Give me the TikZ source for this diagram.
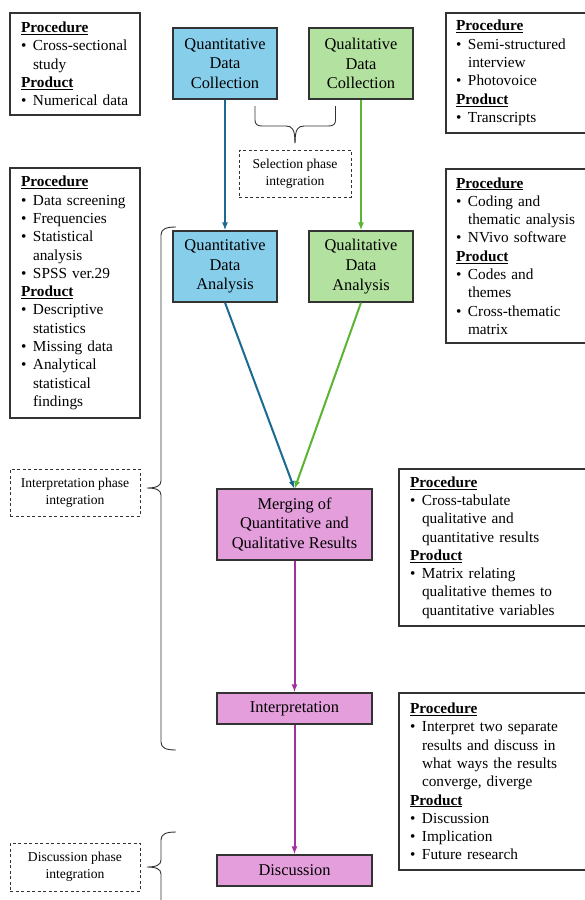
\documentclass[tikz,border=0pt]{standalone}
\usepackage{fontspec}
\setmainfont{Liberation Serif}
\usetikzlibrary{arrows.meta}
\definecolor{qblue}{HTML}{87CEEB}
\definecolor{qgreen}{HTML}{B3E1A0}
\definecolor{qpink}{HTML}{E49EDC}
\definecolor{abluec}{HTML}{1B6A8F}
\definecolor{agreenc}{HTML}{5BB533}
\definecolor{apurple}{HTML}{A3309E}
\definecolor{bordc}{HTML}{333333}
\newcommand\bl{\makebox[12pt][l]{\textbullet}}
\newcommand\ind{\hspace*{12pt}}
\newcommand\hd[1]{\underline{\textbf{#1}}}
\tikzset{
  mainbox/.style={draw=bordc, line width=1.2pt, align=center, inner sep=0pt,
    font=\fontsize{16.4}{19.7}\selectfont},
  sidebox/.style={draw=bordc, line width=1.2pt, align=left, inner ysep=0pt,
    font=\fontsize{15.3}{18.3}\selectfont},
  dashbox/.style={draw=bordc, dash pattern=on 3pt off 2.5pt, line width=0.9pt,
    align=center, inner sep=0pt, font=\fontsize{13.6}{16.6}\selectfont},
  bracestyle/.style={draw=bordc, line width=0.9pt},
  arr/.style={line width=2pt, -{Latex[length=8pt,width=6pt]}},
}
\begin{document}
\begin{tikzpicture}[x=1pt,y=-1pt]
\useasboundingbox (0,0) rectangle (584,900);
\fill[white] (0,0) rectangle (584,900);

% main boxes
\node[mainbox, fill=qblue, minimum width=104pt, minimum height=71pt] (qdc) at (225,63.5) {Quantitative\\Data\\Collection};
\node[mainbox, fill=qgreen, minimum width=104pt, minimum height=71pt] (ldc) at (361,63.5) {Qualitative\\Data\\Collection};
\node[mainbox, fill=qblue, minimum width=104pt, minimum height=71pt] (qda) at (225,266.5) {Quantitative\\Data\\Analysis};
\node[mainbox, fill=qgreen, minimum width=104pt, minimum height=71pt] (lda) at (361,266.5) {Qualitative\\Data\\Analysis};
\node[mainbox, fill=qpink, minimum width=155pt, minimum height=71pt] (merge) at (294.5,524.5) {Merging of\\Quantitative and\\Qualitative Results};
\node[mainbox, fill=qpink, minimum width=155pt, minimum height=31pt] (interp) at (294.5,708.5) {Interpretation};
\node[mainbox, fill=qpink, minimum width=155pt, minimum height=31pt] (disc) at (294.5,870.5) {Discussion};

% side boxes
\node[sidebox, inner xsep=11pt, text width=108pt, minimum height=102pt] (lb1) at (75,64) {\hd{Procedure}\\\bl Cross-sectional\\\ind study\\\hd{Product}\\\bl Numerical data};
\node[sidebox, inner xsep=11pt, text width=108pt, minimum height=250pt] (lb2) at (75,293) {\hd{Procedure}\\\bl Data screening\\\bl Frequencies\\\bl Statistical\\\ind analysis\\\bl SPSS ver.29\\\hd{Product}\\\bl Descriptive\\\ind statistics\\\bl Missing data\\\bl Analytical\\\ind statistical\\\ind findings};
\node[sidebox, inner xsep=10pt, text width=130pt, minimum height=120pt] (rb1) at (521,73) {\hd{Procedure}\\\bl Semi-structured\\\ind interview\\\bl Photovoice\\\hd{Product}\\\bl Transcripts};
\node[sidebox, inner xsep=10pt, text width=130pt, minimum height=174pt] (rb2) at (521,256) {\hd{Procedure}\\\bl Coding and\\\ind thematic analysis\\\bl NVivo software\\\hd{Product}\\\bl Codes and\\\ind themes\\\bl Cross-thematic\\\ind matrix};
\node[sidebox, inner xsep=11pt, text width=175pt, minimum height=157pt] (rb3) at (497.5,547.5) {\hd{Procedure}\\\bl Cross-tabulate\\\ind qualitative and\\\ind quantitative results\\\hd{Product}\\\bl Matrix relating\\\ind qualitative themes to\\\ind quantitative variables};
\node[sidebox, inner xsep=11pt, text width=175pt, minimum height=177pt] (rb4) at (497.5,781.5) {\hd{Procedure}\\\bl Interpret two separate\\\ind results and discuss in\\\ind what ways the results\\\ind converge, diverge\\\hd{Product}\\\bl Discussion\\\bl Implication\\\bl Future research};

% dashed boxes
\node[dashbox, minimum width=112pt, minimum height=47pt] (selp) at (295,173.5) {Selection phase\\integration};
\node[dashbox, minimum width=130pt, minimum height=47pt] (intp) at (75,492.5) {Interpretation phase\\integration};
\node[dashbox, minimum width=130pt, minimum height=48pt] (discp) at (75,867) {Discussion phase\\integration};

% arrows
\draw[arr, abluec] (qdc) -- (qda);
\draw[arr, agreenc] (ldc) -- (lda);
\coordinate (mtop) at (294.5,489);
\draw[arr, abluec] (qda.south) -- (mtop);
\draw[arr, agreenc] (lda.south) -- (mtop);
\draw[arr, apurple] (merge) -- (interp);
\draw[arr, apurple] (interp) -- (disc);

% braces
\draw[bracestyle] (255,106) -- (255,120) .. controls (255,124) and (257,126) .. (262,126)
  -- (286,126) .. controls (292,126) and (295,129) .. (295,143);
\draw[bracestyle] (335.5,106) -- (335.5,120) .. controls (335.5,124) and (333.5,126) .. (328.5,126)
  -- (304,126) .. controls (298,126) and (295,129) .. (295,143);

\draw[bracestyle] (176,227) .. controls (166,227) and (161,229) .. (161,235) -- (161,481)
  .. controls (161,486) and (156,488) .. (147,488)
  .. controls (156,488) and (161,490) .. (161,495) -- (161,742)
  .. controls (161,748) and (166,750) .. (176,750);

\draw[bracestyle] (176,832) .. controls (166,832) and (161,834) .. (161,840) -- (161,860)
  .. controls (161,865) and (156,867) .. (147,867)
  .. controls (156,867) and (161,869) .. (161,874) -- (161,905);
\end{tikzpicture}
\end{document}
